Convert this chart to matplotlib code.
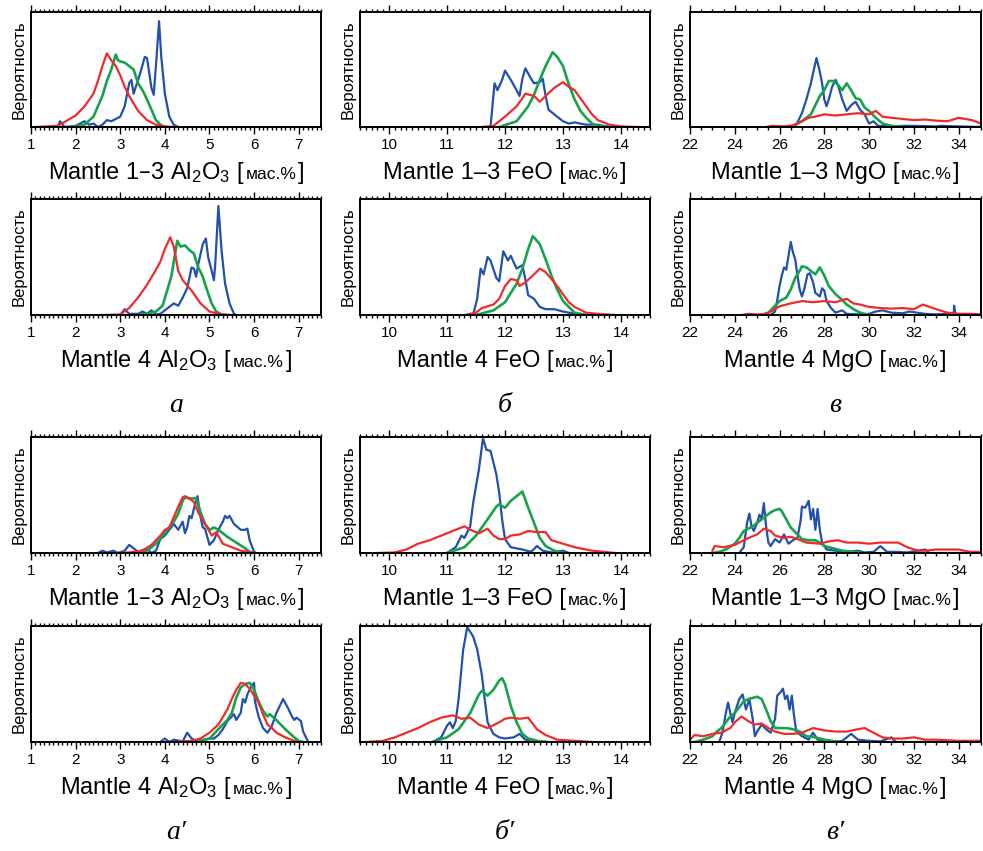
import matplotlib
matplotlib.use("Agg")
import matplotlib.pyplot as plt
from matplotlib.ticker import MultipleLocator
from matplotlib.offsetbox import TextArea, HPacker, AnnotationBbox

plt.rcParams['font.family'] = ['Liberation Sans', 'DejaVu Sans']
plt.rcParams['mathtext.default'] = 'regular'

BLUE = '#2150ad'
GREEN = '#17a34a'
RED = '#ef2b2b'

# --- Al2O3, Mantle 1-3 (a) ---
al13_blue = [(1.6, 0), (1.65, 0.05), (1.75, 0), (1.9, 0.005), (2.0, 0.01), (2.2, 0.05), (2.3, 0.02),
             (2.4, 0.03), (2.5, 0), (2.6, 0.02), (2.7, 0.06), (2.8, 0.05), (3.0, 0.09), (3.1, 0.18),
             (3.2, 0.38), (3.25, 0.41), (3.3, 0.29), (3.35, 0.35), (3.45, 0.47), (3.55, 0.61), (3.6, 0.60),
             (3.65, 0.47), (3.7, 0.34), (3.75, 0.28), (3.8, 0.53), (3.87, 0.92), (3.92, 0.61), (4.0, 0.29),
             (4.1, 0.09), (4.2, 0.02), (4.3, 0)]
al13_green = [(1.9, 0), (2.2, 0.02), (2.4, 0.09), (2.5, 0.18), (2.6, 0.27), (2.7, 0.40), (2.8, 0.50),
              (2.9, 0.63), (2.95, 0.58), (3.0, 0.57), (3.1, 0.56), (3.2, 0.53), (3.3, 0.50), (3.4, 0.38),
              (3.5, 0.32), (3.6, 0.24), (3.7, 0.15), (3.8, 0.06), (3.9, 0.02), (4.0, 0)]
al13_red = [(1.1, 0), (1.6, 0.01), (2.0, 0.10), (2.2, 0.18), (2.4, 0.29), (2.5, 0.40), (2.6, 0.53),
            (2.7, 0.64), (2.8, 0.58), (2.9, 0.53), (3.0, 0.45), (3.1, 0.35), (3.2, 0.27), (3.4, 0.14),
            (3.6, 0.06), (3.8, 0.02), (4.0, 0.005), (4.2, 0)]

# --- FeO, Mantle 1-3 (b) ---
fe13_blue = [(11.75, 0), (11.82, 0.38), (11.87, 0.32), (11.95, 0.41), (12.0, 0.49), (12.1, 0.41),
             (12.2, 0.32), (12.25, 0.27), (12.3, 0.42), (12.35, 0.51), (12.45, 0.42), (12.5, 0.38),
             (12.6, 0.39), (12.65, 0.42), (12.7, 0.27), (12.75, 0.15), (12.85, 0.11), (13.0, 0.05),
             (13.1, 0.03), (13.2, 0.04), (13.4, 0.02), (13.6, 0.02), (13.7, 0.01), (13.8, 0)]
fe13_green = [(11.9, 0), (12.2, 0.05), (12.4, 0.18), (12.5, 0.28), (12.6, 0.41), (12.7, 0.53),
              (12.82, 0.65), (12.9, 0.61), (13.0, 0.53), (13.1, 0.37), (13.2, 0.24), (13.3, 0.14),
              (13.4, 0.08), (13.5, 0.03), (13.6, 0.01), (13.8, 0)]
fe13_red = [(11.6, 0), (11.8, 0.01), (12.0, 0.09), (12.2, 0.18), (12.3, 0.25), (12.35, 0.29), (12.5, 0.27),
            (12.6, 0.22), (12.7, 0.27), (12.85, 0.34), (13.0, 0.39), (13.1, 0.35), (13.2, 0.32),
            (13.3, 0.25), (13.4, 0.18), (13.5, 0.11), (13.6, 0.06), (13.8, 0.02), (14.0, 0.005), (14.3, 0)]

# --- MgO, Mantle 1-3 (v) ---
mg13_blue = [(26.7, 0), (27.0, 0.12), (27.2, 0.24), (27.4, 0.38), (27.5, 0.47), (27.65, 0.60),
             (27.8, 0.48), (27.9, 0.38), (28.0, 0.24), (28.1, 0.18), (28.2, 0.24), (28.35, 0.35),
             (28.5, 0.41), (28.6, 0.37), (28.8, 0.24), (29.0, 0.14), (29.2, 0.19), (29.4, 0.22),
             (29.6, 0.15), (29.8, 0.11), (30.0, 0.03), (30.2, 0.05), (30.4, 0.01), (31.0, 0.005),
             (31.5, 0.01), (32.0, 0.01), (33.0, 0.005), (33.2, 0.01), (34.0, 0.005), (35.0, 0)]
mg13_green = [(26.5, 0), (27.0, 0.05), (27.4, 0.11), (27.8, 0.27), (28.0, 0.32), (28.2, 0.40),
              (28.4, 0.40), (28.6, 0.37), (28.8, 0.32), (29.0, 0.38), (29.2, 0.32), (29.4, 0.25),
              (29.6, 0.24), (29.8, 0.17), (30.0, 0.14), (30.3, 0.08), (30.6, 0.03), (31.0, 0.01), (31.5, 0)]
mg13_red = [(25.4, 0), (25.7, 0.01), (26.2, 0.005), (26.6, 0.015), (27.0, 0.05), (27.3, 0.08),
            (27.6, 0.09), (28.0, 0.11), (28.5, 0.10), (29.0, 0.11), (29.5, 0.12), (30.0, 0.11),
            (30.3, 0.14), (30.6, 0.09), (31.0, 0.08), (31.5, 0.07), (32.0, 0.06), (32.5, 0.065),
            (33.0, 0.055), (33.5, 0.05), (34.0, 0.08), (34.3, 0.07), (34.6, 0.06), (35.0, 0.03)]

# --- Al2O3, Mantle 4 (a) ---
al4_blue = [(3.0, 0), (3.1, 0.05), (3.2, 0.01), (3.4, 0.01), (3.5, 0.03), (3.6, 0.01), (3.7, 0.04),
            (3.8, 0.005), (3.9, 0.01), (4.0, 0.04), (4.2, 0.10), (4.3, 0.08), (4.4, 0.15), (4.5, 0.23),
            (4.6, 0.41), (4.65, 0.40), (4.7, 0.33), (4.75, 0.44), (4.85, 0.61), (4.92, 0.66), (4.97, 0.50),
            (5.05, 0.38), (5.1, 0.30), (5.13, 0.44), (5.2, 0.94), (5.27, 0.56), (5.35, 0.27), (5.45, 0.10),
            (5.55, 0.01), (5.6, 0)]
al4_green = [(3.4, 0), (3.6, 0.01), (3.8, 0.03), (3.95, 0.08), (4.05, 0.21), (4.15, 0.34), (4.2, 0.46),
             (4.28, 0.64), (4.35, 0.59), (4.45, 0.60), (4.55, 0.56), (4.65, 0.53), (4.75, 0.41),
             (4.85, 0.33), (4.95, 0.21), (5.05, 0.10), (5.15, 0.03), (5.3, 0)]
al4_red = [(2.6, 0), (3.0, 0.005), (3.2, 0.06), (3.4, 0.15), (3.6, 0.26), (3.8, 0.39), (3.9, 0.46),
           (4.0, 0.57), (4.12, 0.67), (4.2, 0.59), (4.3, 0.38), (4.4, 0.30), (4.6, 0.21), (4.8, 0.10),
           (5.0, 0.03), (5.2, 0.01), (5.5, 0)]

# --- FeO, Mantle 4 (b) ---
fe4_blue = [(11.45, 0), (11.52, 0.14), (11.58, 0.40), (11.63, 0.35), (11.7, 0.50), (11.75, 0.47),
            (11.85, 0.32), (11.9, 0.29), (11.97, 0.55), (12.05, 0.47), (12.1, 0.51), (12.2, 0.40),
            (12.3, 0.43), (12.35, 0.31), (12.4, 0.17), (12.5, 0.14), (12.6, 0.07), (12.7, 0.05),
            (12.85, 0.05), (13.0, 0.03), (13.1, 0.02), (13.3, 0.01), (13.4, 0)]
fe4_green = [(11.5, 0), (11.8, 0.04), (12.0, 0.11), (12.2, 0.27), (12.3, 0.40), (12.4, 0.57),
             (12.48, 0.68), (12.6, 0.61), (12.7, 0.48), (12.8, 0.34), (12.9, 0.22), (13.0, 0.12),
             (13.1, 0.07), (13.2, 0.02), (13.4, 0)]
fe4_red = [(11.3, 0), (11.5, 0.02), (11.6, 0.06), (11.8, 0.09), (11.9, 0.14), (12.0, 0.25), (12.1, 0.31),
           (12.2, 0.30), (12.25, 0.25), (12.35, 0.28), (12.5, 0.35), (12.6, 0.40), (12.7, 0.37),
           (12.8, 0.31), (12.9, 0.25), (13.0, 0.18), (13.1, 0.11), (13.2, 0.07), (13.4, 0.02),
           (13.6, 0.01), (13.9, 0)]

# --- MgO, Mantle 4 (v) ---
mg4_blue = [(25.6, 0), (25.8, 0.03), (25.9, 0.13), (26.0, 0.25), (26.1, 0.34), (26.2, 0.41), (26.3, 0.39),
            (26.4, 0.51), (26.5, 0.63), (26.6, 0.54), (26.7, 0.48), (26.8, 0.34), (26.9, 0.22),
            (27.0, 0.16), (27.1, 0.22), (27.25, 0.35), (27.35, 0.36), (27.5, 0.28), (27.6, 0.19),
            (27.8, 0.16), (27.9, 0.23), (28.0, 0.21), (28.1, 0.12), (28.3, 0.06), (28.5, 0.02),
            (28.8, 0.04), (29.0, 0.01), (29.5, 0.005), (30.0, 0.01), (30.3, 0.03), (30.6, 0.04),
            (31.0, 0.02), (31.5, 0.015), (31.8, 0.03), (32.5, 0.01), (33.0, 0.005), (33.5, 0.01),
            (33.78, 0.01), (33.8, 0.08), (33.85, 0.01), (34.5, 0.005), (35.0, 0)]
mg4_green = [(25.2, 0), (25.5, 0.02), (25.8, 0.08), (26.0, 0.12), (26.3, 0.15), (26.5, 0.22),
             (26.7, 0.32), (26.9, 0.38), (27.0, 0.42), (27.2, 0.41), (27.4, 0.38), (27.6, 0.35),
             (27.8, 0.41), (28.0, 0.34), (28.2, 0.25), (28.5, 0.18), (28.8, 0.13), (29.0, 0.09),
             (29.3, 0.05), (29.6, 0.02), (30.0, 0)]
mg4_red = [(24.3, 0), (24.6, 0.01), (25.0, 0.005), (25.4, 0.01), (25.7, 0.04), (26.0, 0.075),
           (26.5, 0.10), (27.0, 0.12), (27.5, 0.11), (28.0, 0.12), (28.5, 0.11), (29.0, 0.14),
           (29.3, 0.10), (29.6, 0.09), (30.0, 0.07), (30.5, 0.06), (31.0, 0.055), (31.5, 0.06),
           (32.0, 0.05), (32.4, 0.09), (32.7, 0.07), (33.0, 0.05), (33.5, 0.02), (34.0, 0.01),
           (34.5, 0.01), (35.0, 0.005)]

# --- Al2O3, Mantle 1-3 (a') ---
al13p_blue = [(2.5, 0), (2.6, 0.02), (2.7, 0.005), (2.85, 0.02), (2.95, 0), (3.1, 0.02), (3.2, 0.07),
              (3.3, 0.04), (3.4, 0.01), (3.6, 0.04), (3.7, 0), (3.8, 0.02), (3.9, 0.12), (4.0, 0.15),
              (4.1, 0.20), (4.2, 0.25), (4.3, 0.20), (4.4, 0.27), (4.45, 0.17), (4.5, 0.22), (4.55, 0.32),
              (4.6, 0.30), (4.65, 0.38), (4.73, 0.49), (4.8, 0.31), (4.85, 0.22), (4.9, 0.21), (5.0, 0.07),
              (5.1, 0.11), (5.2, 0.20), (5.3, 0.27), (5.35, 0.32), (5.4, 0.30), (5.45, 0.32), (5.55, 0.25),
              (5.7, 0.20), (5.8, 0.20), (5.85, 0.21), (5.9, 0.11), (6.0, 0.01), (6.05, 0)]
al13p_green = [(3.3, 0), (3.6, 0.02), (3.8, 0.08), (4.0, 0.17), (4.1, 0.22), (4.2, 0.27), (4.3, 0.34),
               (4.4, 0.45), (4.45, 0.48), (4.55, 0.47), (4.7, 0.47), (4.8, 0.35), (4.9, 0.25), (5.0, 0.20),
               (5.1, 0.22), (5.2, 0.20), (5.4, 0.14), (5.6, 0.09), (5.8, 0.04), (5.9, 0.01), (6.0, 0)]
al13p_red = [(2.9, 0), (3.2, 0.005), (3.5, 0.02), (3.7, 0.07), (3.9, 0.15), (4.0, 0.20), (4.1, 0.22),
             (4.2, 0.31), (4.3, 0.40), (4.4, 0.48), (4.45, 0.49), (4.55, 0.47), (4.65, 0.44), (4.75, 0.35),
             (4.85, 0.28), (4.95, 0.22), (5.05, 0.15), (5.15, 0.18), (5.3, 0.08), (5.5, 0.05), (5.7, 0.02),
             (6.0, 0)]

# --- FeO, Mantle 1-3 (b') ---
fe13p_blue = [(11.0, 0), (11.15, 0.05), (11.25, 0.15), (11.3, 0.13), (11.4, 0.23), (11.45, 0.43),
              (11.55, 0.72), (11.62, 0.99), (11.68, 0.89), (11.75, 0.88), (11.8, 0.78), (11.85, 0.68),
              (11.9, 0.52), (11.95, 0.29), (12.0, 0.12), (12.1, 0.05), (12.3, 0.03), (12.45, 0.01),
              (12.55, 0.06), (12.65, 0.02), (12.8, 0.005), (13.0, 0.02), (13.1, 0)]
fe13p_green = [(11.0, 0), (11.3, 0.05), (11.5, 0.15), (11.7, 0.29), (11.85, 0.40), (11.9, 0.42),
               (12.0, 0.39), (12.1, 0.45), (12.2, 0.49), (12.3, 0.53), (12.4, 0.39), (12.5, 0.26),
               (12.6, 0.13), (12.7, 0.06), (12.85, 0.02), (13.0, 0)]
fe13p_red = [(9.8, 0), (10.1, 0.005), (10.3, 0.03), (10.5, 0.08), (10.7, 0.11), (10.9, 0.15), (11.1, 0.19),
             (11.3, 0.23), (11.4, 0.20), (11.55, 0.17), (11.7, 0.21), (11.8, 0.15), (11.9, 0.12),
             (12.0, 0.12), (12.1, 0.15), (12.25, 0.16), (12.4, 0.19), (12.55, 0.18), (12.7, 0.18),
             (12.8, 0.11), (13.0, 0.08), (13.2, 0.05), (13.5, 0.02), (13.9, 0)]

# --- MgO, Mantle 1-3 (v') ---
mg13p_blue = [(24.2, 0), (24.4, 0.05), (24.55, 0.26), (24.65, 0.34), (24.75, 0.23), (24.85, 0.19),
              (25.0, 0.26), (25.1, 0.33), (25.2, 0.29), (25.3, 0.43), (25.4, 0.23), (25.5, 0.09),
              (25.6, 0.06), (25.8, 0.12), (26.0, 0.09), (26.2, 0.16), (26.4, 0.08), (26.6, 0.11),
              (26.8, 0.13), (26.95, 0.29), (27.0, 0.40), (27.15, 0.39), (27.3, 0.45), (27.4, 0.29),
              (27.5, 0.38), (27.6, 0.20), (27.7, 0.38), (27.8, 0.20), (27.9, 0.09), (28.1, 0.03),
              (28.5, 0.02), (29.0, 0.01), (29.5, 0.02), (29.8, 0.005), (30.2, 0.01), (30.5, 0.06),
              (30.8, 0.01), (31.2, 0.01), (31.7, 0.005), (32.5, 0.03), (32.7, 0), (35.0, 0)]
mg13p_green = [(23.0, 0), (23.3, 0.01), (23.6, 0.03), (24.0, 0.08), (24.2, 0.13), (24.4, 0.19),
               (24.6, 0.21), (24.8, 0.23), (25.0, 0.26), (25.2, 0.29), (25.4, 0.32), (25.6, 0.35),
               (25.8, 0.37), (26.0, 0.38), (26.1, 0.36), (26.3, 0.29), (26.5, 0.22), (26.7, 0.18),
               (27.0, 0.12), (27.3, 0.11), (27.6, 0.11), (27.8, 0.09), (28.0, 0.06), (28.4, 0.04),
               (28.8, 0.02), (29.3, 0.01), (29.7, 0)]
mg13p_red = [(23.0, 0.02), (23.1, 0.06), (23.5, 0.05), (24.0, 0.07), (24.5, 0.12), (25.0, 0.16),
             (25.3, 0.21), (25.6, 0.19), (25.8, 0.15), (26.2, 0.13), (26.5, 0.14), (26.8, 0.12),
             (27.2, 0.09), (27.8, 0.08), (28.2, 0.10), (28.6, 0.11), (29.0, 0.09), (29.5, 0.09),
             (30.0, 0.08), (30.5, 0.09), (31.0, 0.09), (31.3, 0.09), (31.7, 0.05), (32.2, 0.02),
             (32.5, 0.02), (33.0, 0.03), (33.5, 0.03), (34.0, 0.03), (34.5, 0.01), (35.0, 0.01)]

# --- Al2O3, Mantle 4 (a') ---
al4p_blue = [(3.9, 0), (4.0, 0.03), (4.1, 0), (4.2, 0.02), (4.4, 0.005), (4.5, 0.08), (4.6, 0.03),
             (4.7, 0.01), (4.9, 0.02), (5.0, 0.03), (5.1, 0.03), (5.2, 0.06), (5.3, 0.11), (5.4, 0.18),
             (5.5, 0.22), (5.55, 0.24), (5.6, 0.19), (5.7, 0.25), (5.75, 0.37), (5.8, 0.34), (5.85, 0.41),
             (5.95, 0.49), (6.0, 0.51), (6.02, 0.35), (6.1, 0.22), (6.2, 0.12), (6.3, 0.08), (6.4, 0.14),
             (6.5, 0.25), (6.6, 0.33), (6.65, 0.37), (6.75, 0.30), (6.85, 0.22), (6.9, 0.19), (6.95, 0.21),
             (7.05, 0.18), (7.1, 0.09), (7.2, 0.01), (7.22, 0)]
al4p_green = [(4.6, 0), (4.8, 0.01), (5.0, 0.03), (5.2, 0.11), (5.4, 0.19), (5.5, 0.25), (5.6, 0.38),
              (5.7, 0.47), (5.8, 0.50), (5.9, 0.51), (6.0, 0.45), (6.1, 0.35), (6.2, 0.27), (6.3, 0.22),
              (6.35, 0.24), (6.5, 0.19), (6.7, 0.11), (6.9, 0.04), (7.0, 0.01), (7.1, 0)]
al4p_red = [(4.2, 0), (4.6, 0.01), (4.8, 0.03), (5.0, 0.08), (5.2, 0.15), (5.4, 0.28), (5.5, 0.37),
            (5.6, 0.45), (5.7, 0.51), (5.8, 0.50), (5.9, 0.46), (6.0, 0.40), (6.1, 0.34), (6.2, 0.24),
            (6.3, 0.15), (6.4, 0.12), (6.5, 0.08), (6.7, 0.04), (6.9, 0.01), (7.0, 0)]

# --- FeO, Mantle 4 (b') ---
fe4p_blue = [(10.75, 0), (10.9, 0.04), (11.0, 0.14), (11.05, 0.17), (11.1, 0.12), (11.15, 0.18),
             (11.2, 0.37), (11.28, 0.80), (11.35, 0.99), (11.45, 0.91), (11.52, 0.80), (11.6, 0.58),
             (11.65, 0.37), (11.7, 0.17), (11.8, 0.07), (11.9, 0.04), (12.0, 0.03), (12.15, 0.04),
             (12.25, 0.07), (12.35, 0.02), (12.5, 0.01), (12.75, 0)]
fe4p_green = [(10.75, 0), (11.0, 0.04), (11.2, 0.11), (11.4, 0.25), (11.55, 0.41), (11.6, 0.44),
              (11.7, 0.40), (11.8, 0.45), (11.9, 0.53), (11.95, 0.55), (12.0, 0.50), (12.1, 0.31),
              (12.2, 0.17), (12.3, 0.07), (12.4, 0.03), (12.6, 0.005), (12.7, 0)]
fe4p_red = [(9.6, 0), (9.9, 0.01), (10.1, 0.04), (10.3, 0.08), (10.5, 0.12), (10.7, 0.17), (10.9, 0.21),
            (11.1, 0.23), (11.25, 0.20), (11.4, 0.21), (11.55, 0.15), (11.7, 0.12), (11.9, 0.17),
            (12.0, 0.20), (12.1, 0.21), (12.25, 0.20), (12.4, 0.21), (12.55, 0.11), (12.7, 0.06),
            (12.9, 0.02), (13.2, 0.01), (13.5, 0)]

# --- MgO, Mantle 4 (v') ---
mg4p_blue = [(23.3, 0), (23.45, 0.08), (23.6, 0.25), (23.7, 0.34), (23.8, 0.25), (23.9, 0.17),
             (24.0, 0.25), (24.2, 0.37), (24.35, 0.41), (24.5, 0.28), (24.65, 0.37), (24.8, 0.20),
             (24.9, 0.05), (25.0, 0.09), (25.2, 0.15), (25.4, 0.11), (25.6, 0.08), (25.8, 0.20),
             (25.9, 0.40), (26.05, 0.43), (26.15, 0.46), (26.25, 0.37), (26.35, 0.40), (26.45, 0.28),
             (26.55, 0.40), (26.65, 0.22), (26.75, 0.09), (27.0, 0.05), (27.3, 0.02), (27.5, 0.08),
             (27.7, 0.02), (28.0, 0.005), (28.5, 0), (28.8, 0.01), (29.2, 0.07), (29.5, 0.02),
             (30.0, 0.01), (30.5, 0.005), (31.0, 0.04), (31.2, 0), (35.0, 0)]
mg4p_green = [(22.2, 0), (22.6, 0.02), (23.0, 0.05), (23.2, 0.09), (23.4, 0.12), (23.6, 0.17),
              (23.8, 0.22), (24.0, 0.25), (24.2, 0.30), (24.4, 0.35), (24.6, 0.37), (24.8, 0.38),
              (25.0, 0.39), (25.2, 0.37), (25.4, 0.28), (25.6, 0.18), (25.8, 0.12), (26.0, 0.12),
              (26.3, 0.12), (26.6, 0.11), (26.9, 0.09), (27.2, 0.05), (27.6, 0.04), (28.0, 0.02),
              (28.5, 0.005), (28.7, 0)]
mg4p_red = [(22.0, 0.02), (22.2, 0.06), (22.6, 0.05), (23.0, 0.07), (23.4, 0.08), (23.8, 0.12),
            (24.0, 0.17), (24.3, 0.22), (24.6, 0.18), (24.9, 0.15), (25.2, 0.16), (25.5, 0.12),
            (25.8, 0.09), (26.2, 0.07), (26.6, 0.07), (27.0, 0.08), (27.5, 0.12), (28.0, 0.10),
            (28.5, 0.09), (29.0, 0.09), (29.5, 0.11), (29.8, 0.12), (30.2, 0.08), (30.6, 0.04),
            (31.0, 0.03), (31.5, 0.03), (32.0, 0.04), (32.5, 0.02), (33.0, 0.02), (34.0, 0.01),
            (35.0, 0.01)]

# mantle name, curves per panel (rows top to bottom)
rows = [
    ['1–3', [(al13_blue, al13_green, al13_red), (fe13_blue, fe13_green, fe13_red), (mg13_blue, mg13_green, mg13_red)]],
    ['4', [(al4_blue, al4_green, al4_red), (fe4_blue, fe4_green, fe4_red), (mg4_blue, mg4_green, mg4_red)]],
    ['1–3', [(al13p_blue, al13p_green, al13p_red), (fe13p_blue, fe13p_green, fe13p_red), (mg13p_blue, mg13p_green, mg13p_red)]],
    ['4', [(al4p_blue, al4p_green, al4p_red), (fe4p_blue, fe4p_green, fe4p_red), (mg4p_blue, mg4p_green, mg4p_red)]],
]
oxides = ['Al$_2$O$_3$', 'FeO', 'MgO']
xlims = [(1, 7.5), (9.5, 14.5), (22, 35)]
major_steps = [1, 1, 2]
minor_steps = [0.1, 0.1, 0.5]
panel_letters = [['а', 'б', 'в'], ['а′', 'б′', 'в′']]

W, H = 983, 851
col_px = [(31, 321), (360, 650), (690, 981)]
row_px = [(12, 127), (199, 315), (437, 553), (626, 742)]

fig = plt.figure(figsize=(W / 100, H / 100), dpi=100)

for r, (mantle, panels) in enumerate(rows):
    y0, y1 = row_px[r]
    for c, curves in enumerate(panels):
        x0, x1 = col_px[c]
        ax = fig.add_axes([x0 / W, 1 - y1 / H, (x1 - x0) / W, (y1 - y0) / H])
        for pts, color, lw in zip(curves, (BLUE, GREEN, RED), (1.6, 1.9, 1.6)):
            xs = [p[0] for p in pts]
            ys = [p[1] for p in pts]
            ax.plot(xs, ys, color=color, lw=lw, solid_joinstyle='round')
        ax.set_xlim(*xlims[c])
        ax.set_ylim(0, 1)
        ax.set_yticks([])
        ax.xaxis.set_major_locator(MultipleLocator(major_steps[c]))
        ax.xaxis.set_minor_locator(MultipleLocator(minor_steps[c]))
        ax.tick_params(axis='x', which='both', direction='out', top=True, bottom=True,
                       labelsize=11, width=1.0, pad=3)
        ax.tick_params(axis='x', which='major', length=5)
        ax.tick_params(axis='x', which='minor', length=2.5)
        for s in ax.spines.values():
            s.set_linewidth(1.4)
        ax.set_ylabel('Вероятность', fontsize=12, labelpad=3)

        # axis title with a smaller unit part
        parts = [TextArea(f'Mantle {mantle} {oxides[c]} [', textprops=dict(fontsize=17)),
                 TextArea('мас.%', textprops=dict(fontsize=12.5)),
                 TextArea(']', textprops=dict(fontsize=17))]
        box = HPacker(children=parts, align='baseline', pad=0, sep=1)
        ab = AnnotationBbox(box, (0.5, -0.4), xycoords='axes fraction',
                            box_alignment=(0.5, 0.5), frameon=False, pad=0)
        ax.add_artist(ab)

        if r % 2 == 1:
            ax.text(0.5, -0.78, panel_letters[r // 2][c], transform=ax.transAxes,
                    ha='center', va='center', fontsize=20, style='italic',
                    family=['Liberation Serif', 'DejaVu Serif'])

fig.savefig('out.png', dpi=100)
